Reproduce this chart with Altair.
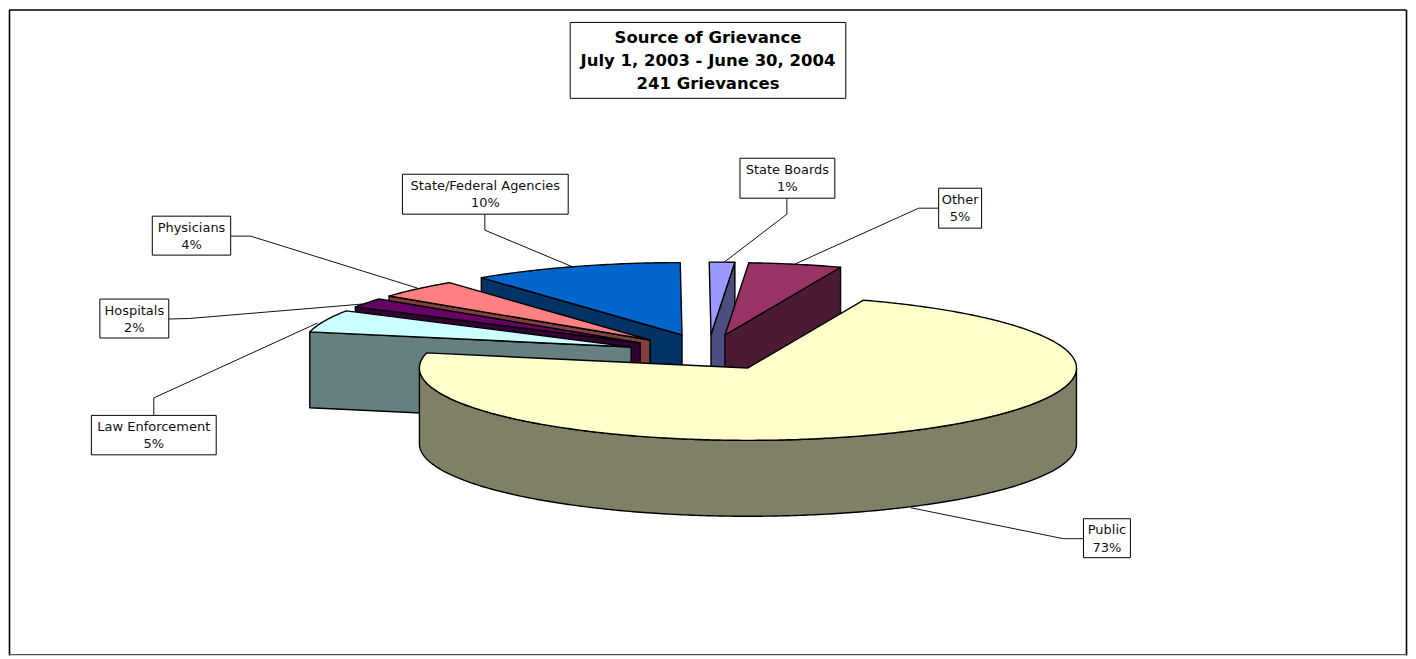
import altair as alt
import numpy as np
import pandas as pd

# ---- data ----
categories = ["Public", "Law Enforcement", "Hospitals", "Physicians",
              "State/Federal Agencies", "State Boards", "Other"]
grievances = [175, 12, 5, 10, 25, 3, 11]
percent_labels = ["73%", "5%", "2%", "4%", "10%", "1%", "5%"]
top_colors = ["#FFFFCC", "#CCFFFF", "#660066", "#FF8080", "#0066CC", "#9999FF", "#993366"]
wall_colors = ["#808066", "#668080", "#330033", "#804040", "#003366", "#4D4D80", "#4D1A33"]
title_lines = ["Source of Grievance", "July 1, 2003 - June 30, 2004", "241 Grievances"]

# ---- layout (reference pixel space) ----
X0, Y0, W, H = 8, 8, 1400, 648
RX, RY, DEPTH = 329, 72.5, 76
FIRST_ANGLE = 20.6
apex = {"Public": (748, 368), "Law Enforcement": (631, 347), "Hospitals": (640, 343),
        "Physicians": (650, 340), "State/Federal Agencies": (682, 335),
        "State Boards": (711, 334.5), "Other": (725, 335)}
boxes = {"Public": (1084, 519, 1131, 558), "Law Enforcement": (90.5, 415.5, 215.5, 455),
         "Hospitals": (99, 299, 168, 338), "Physicians": (151.5, 216, 230, 255),
         "State/Federal Agencies": (402, 174, 568, 214), "State Boards": (740, 158, 835, 198),
         "Other": (939, 188, 982, 228)}
leaders = {"Public": [(1084, 539), (1064, 539), (911, 508)],
           "Law Enforcement": [(153, 415), (153, 398), (317, 323)],
           "Hospitals": [(168, 319), (188, 318.5), (362, 304)],
           "Physicians": [(230, 236), (250, 236), (417, 288)],
           "State/Federal Agencies": [(484.5, 214), (484.5, 230), (573, 267)],
           "State Boards": [(787, 198), (787, 214), (723, 263)],
           "Other": [(939, 208), (919, 208), (795, 264)]}
FS_LABEL, FS_TITLE = 13, 16.5
FONT = "DejaVu Sans"

# ---- geometry computed from the values ----
sweeps = np.array(grievances) / sum(grievances) * 360
starts = FIRST_ANGLE + np.concatenate([[0], np.cumsum(sweeps)[:-1]])
ang = {c: (s, s + d) for c, s, d in zip(categories, starts, sweeps)}


def rim(c, a):
    x, y = apex[c]
    r = np.radians(a)
    return (x + RX * np.sin(r), y - RY * np.cos(r))


def drop(p):
    return (p[0], p[1] + DEPTH)


def feature(pts, fill):
    ring = [[float(x), float(y)] for x, y in pts]
    ring.append(ring[0])
    return {"type": "Feature", "properties": {"fill": fill},
            "geometry": {"type": "Polygon", "coordinates": [ring]}}


def arc(c, a0, a1):
    n = max(3, int(abs(a1 - a0) * 1.5))
    return [rim(c, a) for a in np.linspace(a0, a1, n)]


top = dict(zip(categories, top_colors))
wall = dict(zip(categories, wall_colors))
features = []
for c in ["State/Federal Agencies", "Physicians", "Hospitals", "Law Enforcement"]:
    p = rim(c, ang[c][0])
    features.append(feature([p, apex[c], drop(apex[c]), drop(p)], wall[c]))
    features.append(feature([apex[c]] + arc(c, *ang[c]), top[c]))
for c in ["State Boards", "Other"]:
    p = rim(c, ang[c][1])
    features.append(feature([apex[c], p, drop(p), drop(apex[c])], wall[c]))
    features.append(feature([apex[c]] + arc(c, *ang[c]), top[c]))
c = "Public"
front = arc(c, 90, 270)
features.append(feature(front + [drop(p) for p in reversed(front)], wall[c]))
features.append(feature([apex[c]] + arc(c, *ang[c]), top[c]))

x_scale = alt.Scale(domain=[X0, X0 + W], range=[0, W])
y_scale = alt.Scale(domain=[Y0, Y0 + H], range=[0, H])
X = alt.X("x:Q", scale=x_scale, axis=None)
Y = alt.Y("y:Q", scale=y_scale, axis=None)

pie = alt.Chart(alt.Data(values=features)).mark_geoshape(
    filled=True, stroke="#000000", strokeWidth=1.4, strokeJoin="round"
).encode(color=alt.Color("properties.fill:N", scale=None)).project(
    type="identity", scale=1, translate=[-X0, -Y0]
)

frame_df = pd.DataFrame([
    dict(x=8.5, y=9.5, x2=8.5, y2=656, c="#000000", w=1.6),
    dict(x=8, y=9.5, x2=1407.5, y2=9.5, c="#000000", w=1.6),
    dict(x=1407.5, y=9.5, x2=1407.5, y2=656, c="#000000", w=1.6),
    dict(x=8, y=655, x2=1408, y2=655, c="#555555", w=1.2),
])
frame = alt.Chart(frame_df).mark_rule().encode(
    x=X, y=Y, x2="x2:Q", y2="y2:Q",
    color=alt.Color("c:N", scale=None),
    strokeWidth=alt.StrokeWidth("w:Q", scale=None),
)

lead_rows = [dict(name=k, i=i, x=p[0], y=p[1]) for k, v in leaders.items() for i, p in enumerate(v)]
lead = alt.Chart(pd.DataFrame(lead_rows)).mark_line(color="#111111", strokeWidth=1).encode(
    x=X, y=Y, detail="name:N", order="i:Q"
)

box_rows = [dict(x=v[0], y=v[1], x2=v[2], y2=v[3]) for v in boxes.values()]
box_rows.append(dict(x=570, y=22, x2=846, y2=98))
rects = alt.Chart(pd.DataFrame(box_rows)).mark_rect(
    fill="#FFFFFF", stroke="#000000", strokeWidth=1
).encode(x=X, y=Y, x2="x2:Q", y2="y2:Q")

text_rows = []
for c, pct in zip(categories, percent_labels):
    b = boxes[c]
    mid = (b[0] + b[2]) / 2
    text_rows.append(dict(x=mid, y=b[1] + 11.5, t=c))
    text_rows.append(dict(x=mid, y=b[1] + 29, t=pct))
labels = alt.Chart(pd.DataFrame(text_rows)).mark_text(
    font=FONT, fontSize=FS_LABEL, baseline="middle", align="center", color="#111111"
).encode(x=X, y=Y, text="t:N")

title_rows = [dict(x=708, y=yy, t=t) for t, yy in zip(title_lines, [38, 61, 83.5])]
title = alt.Chart(pd.DataFrame(title_rows)).mark_text(
    font=FONT, fontSize=FS_TITLE, fontWeight="bold", baseline="middle",
    align="center", color="#000000"
).encode(x=X, y=Y, text="t:N")

chart = alt.layer(frame, lead, pie, rects, labels, title).properties(
    width=W, height=H, padding=0, background="#FFFFFF"
).configure_view(stroke=None)

chart.save("out.html", embed_options={"renderer": "svg", "actions": False})
